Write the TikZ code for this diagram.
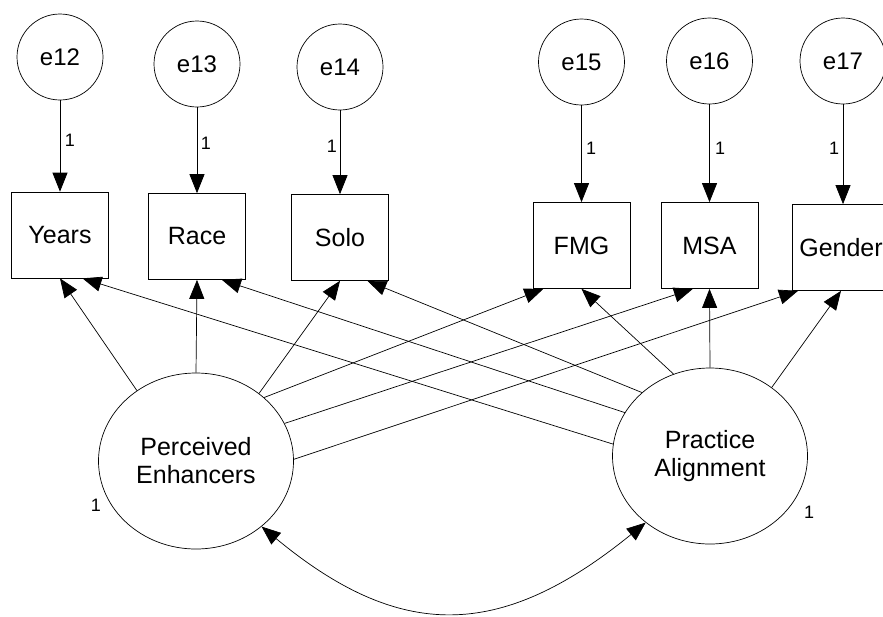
\documentclass[tikz,border=0pt]{standalone}
\usepackage{fontspec}
\setmainfont{Liberation Sans}
\usetikzlibrary{arrows.meta,shapes.geometric,calc}
\begin{document}
\begin{tikzpicture}[x=1pt,y=-1pt,
  obs/.style={draw, line width=0.7pt, rectangle, minimum width=97pt, minimum height=86pt,
              inner sep=0pt, font=\fontsize{25}{28}\selectfont},
  err/.style={draw, line width=0.7pt, circle, minimum size=86pt, inner sep=0pt,
              font=\fontsize{24}{28}\selectfont},
  lat/.style={draw, line width=0.7pt, ellipse, minimum width=195pt, minimum height=176pt,
              inner sep=0pt, align=center, font=\fontsize{25}{28}\selectfont},
  load/.style={-{Triangle[length=19pt,width=15pt]}, line width=0.7pt},
  cov/.style={{Triangle[length=19pt,width=15pt]}-{Triangle[length=19pt,width=15pt]}, line width=0.7pt},
  fix/.style={font=\fontsize{18}{20}\selectfont, inner sep=0pt},
]
\useasboundingbox (0,0) rectangle (883,616);

% observed indicators
\node[obs] (years)  at (60,235)    {Years};
\node[obs] (race)   at (197,236.5) {Race};
\node[obs] (solo)   at (340,237.5) {Solo};
\node[obs] (fmg)    at (581.5,245.5) {FMG};
\node[obs] (msa)    at (709.5,245.5) {MSA};
\node[obs] (gender) at (841,247.5) {Gender};

% error terms
\node[err] (e12) at (60,57)  {e12};
\node[err] (e13) at (197,64) {e13};
\node[err] (e14) at (340,67) {e14};
\node[err] (e15) at (581.5,62) {e15};
\node[err] (e16) at (709.5,61) {e16};
\node[err] (e17) at (843,61) {e17};

% latent factors
\node[lat] (pe) at (196,461) {Perceived\\Enhancers};
\node[lat] (pa) at (710,456) {Practice\\Alignment};

% error paths with fixed weights
\draw[load] (e12.south) -- (e12.south |- years.north);
\draw[load] (e13.south) -- (e13.south |- race.north);
\draw[load] (e14.south) -- (e14.south |- solo.north);
\draw[load] (e15.south) -- (e15.south |- fmg.north);
\draw[load] (e16.south) -- (e16.south |- msa.north);
\draw[load] (e17.south) -- (e17.south |- gender.north);

\node[fix] (w12) at (70,140)  {1};
\node[fix] (w13) at (206,143) {1};
\node[fix] (w14) at (332,146) {1};
\node[fix] (w15) at (591,148) {1};
\node[fix] (w16) at (720,148) {1};
\node[fix] (w17) at (834,148) {1};

% loadings of Perceived Enhancers
\draw[load] (pe.130) -- (years.south);
\draw[load] (pe.90)  -- (race.south);
\draw[load] (pe.47)  -- (solo.south);
\draw[load] (pe.43)  -- ($(fmg.south west)!0.11!(fmg.south east)$);
\draw[load] (pe.23)  -- ($(msa.south west)!0.33!(msa.south east)$);
\draw[load] (pe.1)   -- ($(gender.south west)!0.06!(gender.south east)$);

% loadings of Practice Alignment
\draw[load] (pa.173) -- ($(years.south west)!0.73!(years.south east)$);
\draw[load] (pa.153) -- ($(race.south west)!0.755!(race.south east)$);
\draw[load] (pa.137) -- ($(solo.south west)!0.78!(solo.south east)$);
\draw[load] (pa.114) -- (fmg.south);
\draw[load] (pa.90)  -- (msa.south);
\draw[load] (pa.48)  -- (gender.south);

% factor variances fixed to 1
\node[fix] (vpe) at (96,505)  {1};
\node[fix] (vpa) at (809,512) {1};

% factor covariance
\draw[cov] (pe.-45) .. controls (400,641) and (500,641) .. (pa.-134);
\end{tikzpicture}
\end{document}
